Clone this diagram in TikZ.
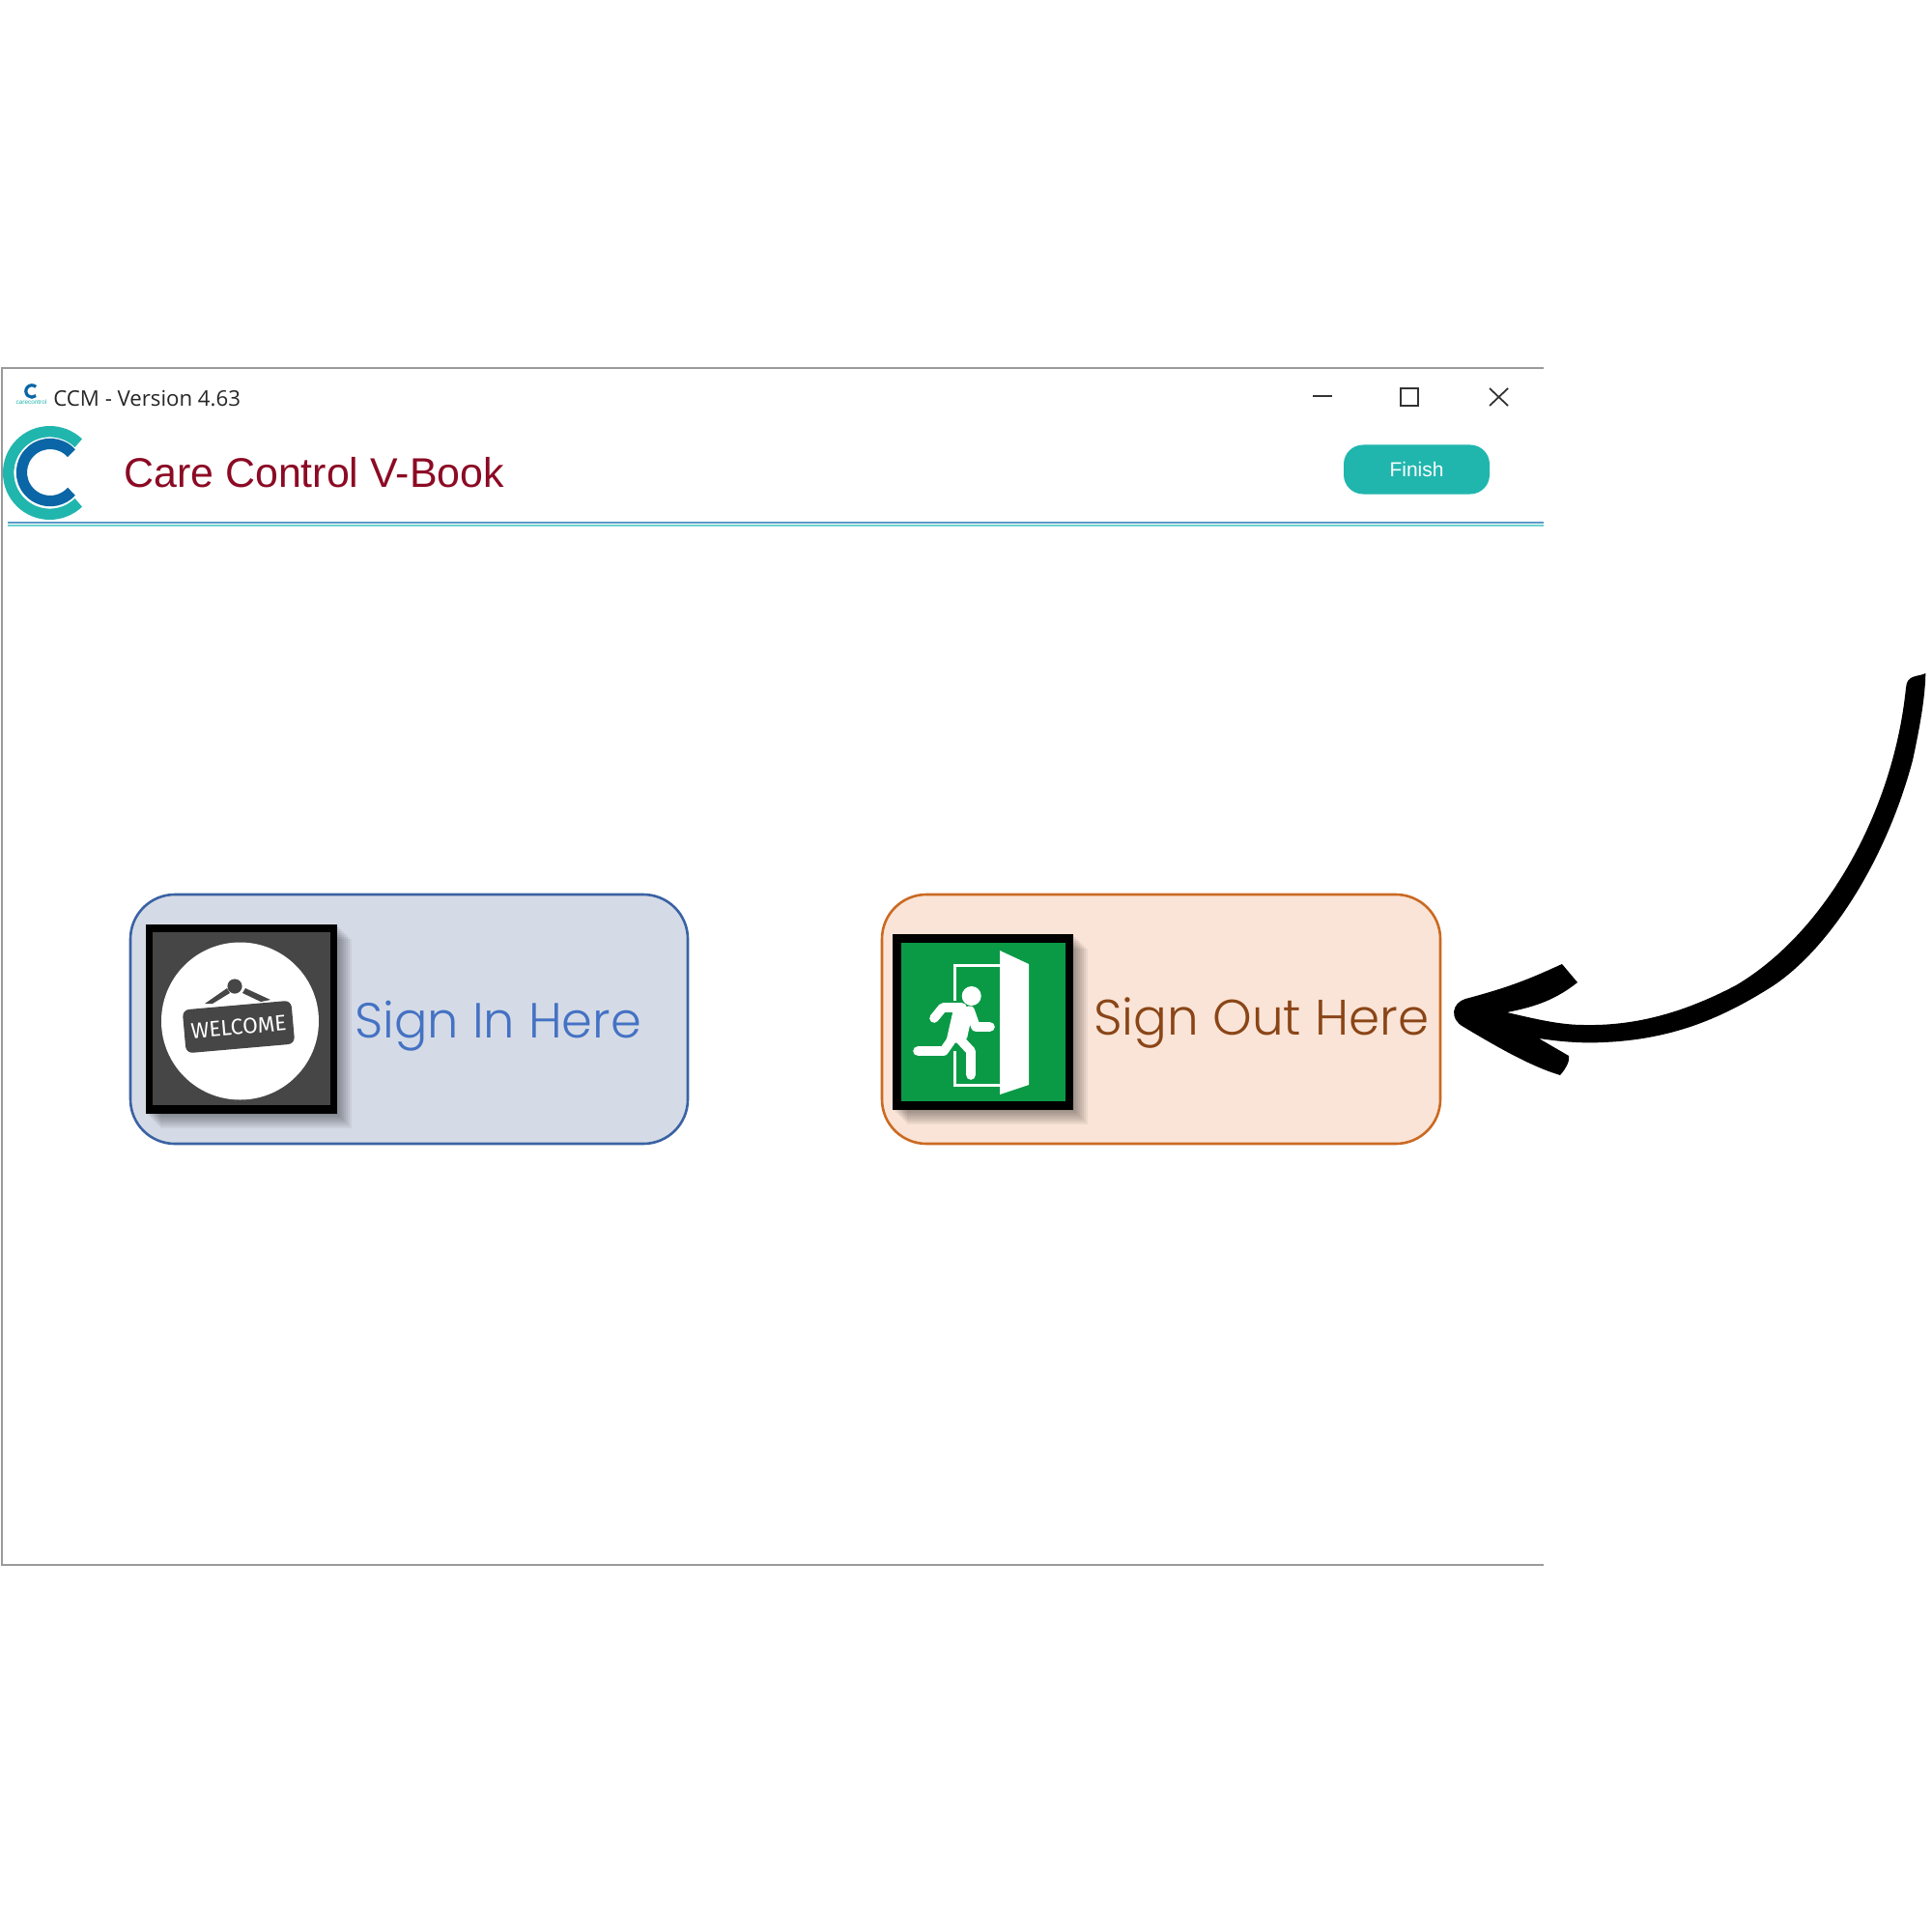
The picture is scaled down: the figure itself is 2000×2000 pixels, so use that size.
\documentclass[tikz,border=0pt]{standalone}
\usepackage{fontspec}
\setmainfont{Liberation Sans}
\newfontfamily\uifont{Open Sans}
\newfontfamily\geofont{Poppins Light}
\newfontfamily\signfont{Fira Sans}
\definecolor{winline}{HTML}{9A9A9A}
\definecolor{ruleblue}{HTML}{5B9AC6}
\definecolor{ruleteal}{HTML}{6ED3CF}
\definecolor{teal}{HTML}{20B6AE}
\definecolor{logoblue}{HTML}{0A66A6}
\definecolor{crimson}{HTML}{8C0A24}
\definecolor{inline}{HTML}{3A62A4}
\definecolor{infill}{HTML}{D5DBE6}
\definecolor{intext}{HTML}{4472C4}
\definecolor{outline}{HTML}{CB6A22}
\definecolor{outfill}{HTML}{FAE4D7}
\definecolor{outtext}{HTML}{8A4517}
\definecolor{signdark}{HTML}{464646}
\definecolor{exitgreen}{HTML}{0A9A46}
\definecolor{ctrl}{HTML}{333333}
\tikzset{
  winedge/.style={draw=winline,line width=1pt},
  winctrl/.style={draw=ctrl,line width=0.9pt},
  panel/.style={rounded corners=23pt,line width=1.3pt},
  softshade/.style={fill=black,fill opacity=0.055,draw=none},
  limb/.style={draw=white,line width=4.8pt,line cap=round,line join=round},
  ring/.style={line width=#1},
  label/.style={inner sep=0pt,anchor=base west}
}
\begin{document}
\begin{tikzpicture}[x=0.5pt,y=-0.5pt]
\useasboundingbox (0,0) rectangle (2000,2000);
\fill[white] (0,0) rectangle (2000,2000);
% window
\draw[winedge] (1598,381.5) -- (2,381.5) -- (2,1620) -- (1598,1620);
\draw[ruleblue,line width=1.1pt] (8,541) -- (1598,541);
\draw[ruleteal,line width=1.1pt] (8,544) -- (1598,544);
% small logo
\draw[logoblue,line width=1.6pt] ([shift={(48:3.1pt)}]33,405) arc[start angle=48,end angle=312,radius=3.1pt];
\node[inner sep=0pt,text=teal,font=\fontsize{3.2}{3.6}\selectfont] (smalllogo) at (32.5,416.5) {carecontrol};
% title bar
\node[label,font=\uifont\fontsize{11.1}{14}\selectfont,text=black!85] (wintitle) at (55,420.5) {CCM - Version 4.63};
\draw[winctrl] (1359,410) -- (1379,410);
\draw[winctrl] (1450,402) rectangle (1468,420);
\draw[winctrl] (1542,402) -- (1561,420) (1561,402) -- (1542,420);
% big logo
\draw[teal,ring=5.7pt] ([shift={(46:21.4pt)}]51.5,489.5) arc[start angle=46,end angle=314,radius=21.4pt];
\draw[logoblue,ring=5.6pt] ([shift={(42:14.8pt)}]52,489) arc[start angle=42,end angle=318,radius=14.8pt];
\node[label,font=\fontsize{21.45}{26}\selectfont,text=crimson] (apptitle) at (128,504) {Care Control V-Book};
% finish button
\node[fill=teal,rounded corners=10pt,minimum width=75.5pt,minimum height=25.5pt,inner sep=0pt,text=white,font=\fontsize{10.5}{12}\selectfont] (finish) at (1466.5,486) {Finish};
% sign in panel
\draw[panel,draw=inline,fill=infill] (135,926) rectangle (712,1184);
\foreach \d in {1,3,...,15} \fill[softshade] (151+\d,957+\d) rectangle (349+\d,1153+\d);
\fill[black] (151,957) rectangle (349,1153);
\fill[signdark] (158,965) rectangle (342,1144);
\node[circle,fill=white,minimum size=81.5pt,inner sep=0pt] (welcomedisc) at (248.5,1057) {};
\fill[signdark] (243,1021) circle (3.8pt);
\fill[signdark] (212,1039) -- (235,1023) -- (238,1028) -- (220,1039) -- cycle;
\fill[signdark] (280,1035) -- (254,1023) -- (251,1028) -- (270,1037) -- cycle;
\node[fill=signdark,rounded corners=3.5pt,rotate=5,minimum width=56.5pt,minimum height=22.5pt,inner sep=0pt,text=white,font=\signfont\fontsize{11.4}{12}\selectfont] (welcome) at (247,1063) {WELCOME};
\node[label,font=\geofont\fontsize{25.55}{30}\selectfont,text=intext] (signin) at (367,1074) {Sign In Here};
% sign out panel
\draw[panel,draw=outline,fill=outfill] (913,926) rectangle (1491,1184);
\foreach \d in {1,3,...,15} \fill[softshade] (924+\d,967+\d) rectangle (1111+\d,1149+\d);
\fill[black] (924,967) rectangle (1111,1149);
\fill[exitgreen] (933,976) rectangle (1103,1140);
\draw[white,line width=1.5pt] (988,1036) -- (988,999) -- (1035,999) (1035,1123) -- (988,1123) -- (988,1088);
\fill[white] (1035,984) -- (1065,998) -- (1065,1123) -- (1035,1133) -- cycle;
\fill[white] (1005.7,1031) circle (5pt);
\fill[white] (988,1040) -- (1008,1043) -- (1001,1075) -- (978,1084) -- cycle;
\draw[limb] (967,1054) -- (976,1043) -- (996,1043);
\draw[limb] (1004,1046) -- (1010,1063) -- (1025,1063);
\draw[limb] (984,1078) -- (977,1088) -- (950,1088);
\draw[limb] (990,1072) -- (1005,1088) -- (1005,1113);
\node[label,font=\geofont\fontsize{25.8}{30}\selectfont,text=outtext] (signout) at (1132,1071) {Sign Out Here};
% hand-drawn arrow
\fill[black]
  (1993.3,697) .. controls (1985,701) and (1974,698) .. (1973,712)
  .. controls (1960,840) and (1890,965) .. (1797,1020)
  .. controls (1740,1050) and (1690,1062) .. (1640,1061)
  .. controls (1615,1061) and (1590,1055) .. (1560,1048)
  .. controls (1590,1042) and (1610,1035) .. (1633,1017)
  -- (1617,998)
  .. controls (1590,1010) and (1570,1020) .. (1517,1034)
  .. controls (1503,1038) and (1500,1055) .. (1515,1063)
  .. controls (1550,1084) and (1585,1104) .. (1615,1113)
  .. controls (1622,1105) and (1625,1098) .. (1624,1093)
  -- (1593,1075)
  .. controls (1620,1079) and (1640,1080) .. (1660,1079)
  .. controls (1730,1076) and (1780,1055) .. (1830,1024)
  .. controls (1892,986) and (1952,892) .. (1980,787)
  .. controls (1988,750) and (1993,720) .. (1993.3,697)
  -- cycle;
\end{tikzpicture}
\end{document}
